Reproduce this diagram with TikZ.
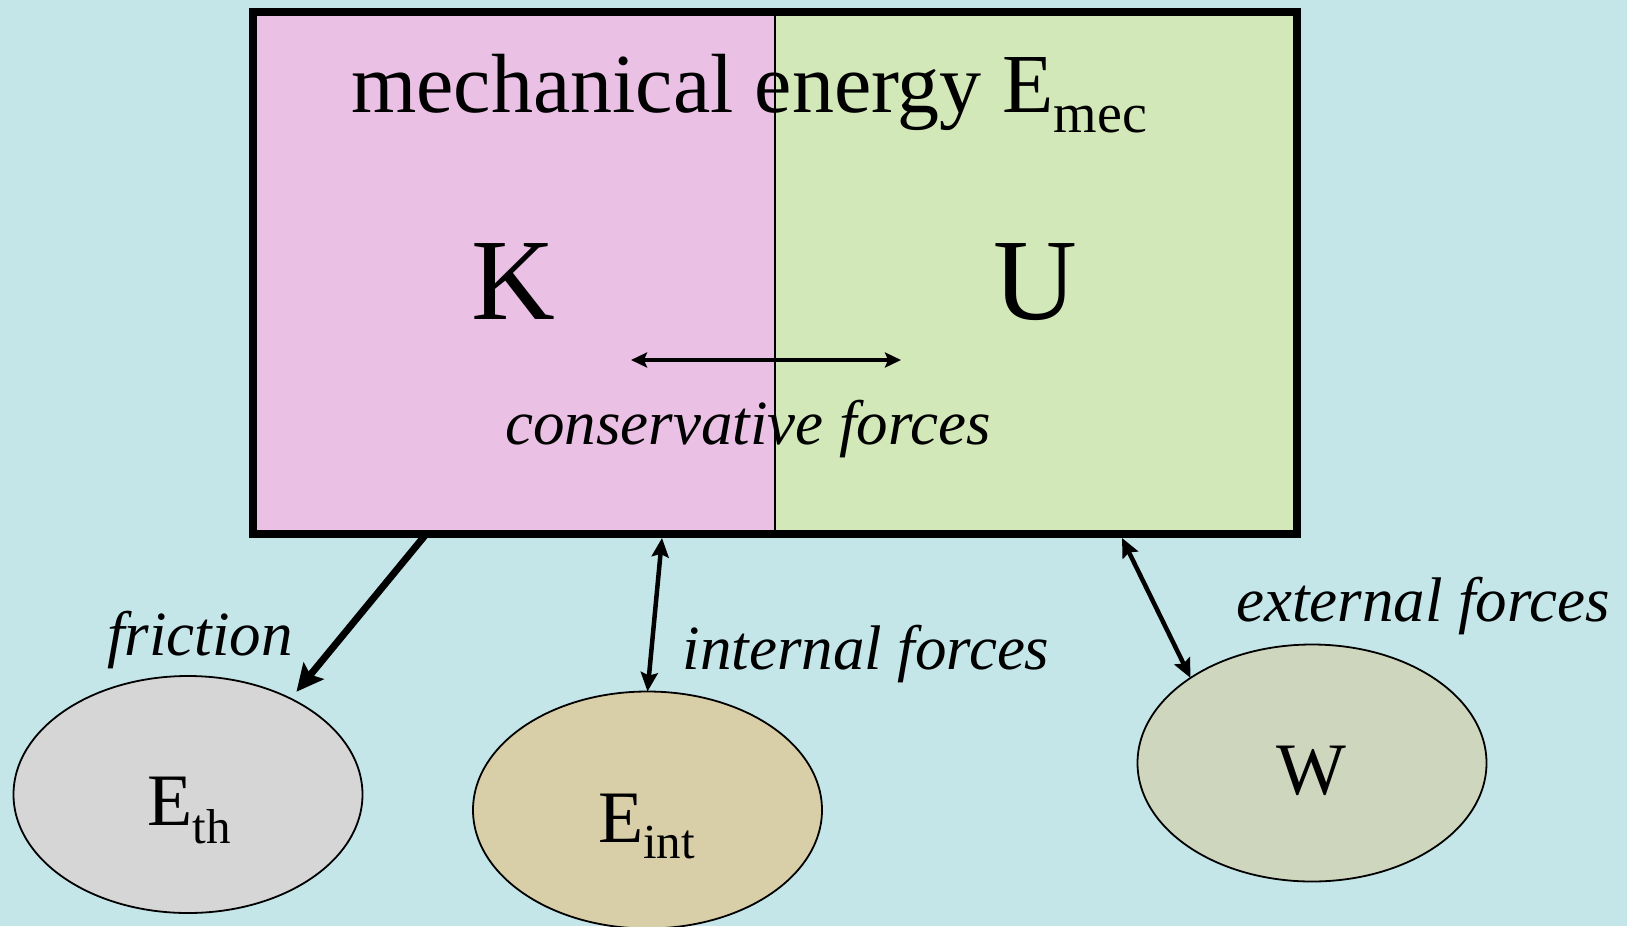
\documentclass[tikz,border=0pt]{standalone}
\usepackage{fontspec}
\setmainfont{Liberation Serif}
\usetikzlibrary{arrows.meta,shapes.geometric}
\definecolor{bgc}{RGB}{196,230,232}
\definecolor{kfill}{RGB}{234,192,228}
\definecolor{ufill}{RGB}{210,232,184}
\definecolor{thfill}{RGB}{214,214,214}
\definecolor{intfill}{RGB}{216,206,168}
\definecolor{wfill}{RGB}{206,214,190}
\newcommand{\fsz}[1]{\fontsize{#1}{#1}\selectfont}
\begin{document}
\begin{tikzpicture}[x=1pt,y=-1pt,
  blob/.style={ellipse, draw=black, line width=1.8pt, minimum width=349pt, minimum height=237pt, inner sep=0pt, outer sep=0pt},
  lbl/.style={inner sep=0pt, anchor=base},
  flabel/.style={inner sep=0pt, anchor=base, font=\fsz{63}\itshape},
  bigarrow/.style={line width=7pt, -{Stealth[length=27pt,width=26pt,inset=5pt]}},
  duoarrow/.style={line width=4.5pt, {Stealth[length=19pt,width=17pt,inset=3pt]}-{Stealth[length=19pt,width=17pt,inset=3pt]}},
  consarrow/.style={line width=3.2pt, {Stealth[length=16pt,width=15pt,inset=3pt]}-{Stealth[length=16pt,width=15pt,inset=3pt]}}
]
\useasboundingbox (0,0) rectangle (1627,926);
\fill[bgc] (0,0) rectangle (1627,926);

% mechanical energy box
\node[minimum width=1044pt, minimum height=522pt, inner sep=0pt, outer sep=0pt] (mec) at (775,273) {};
\fill[kfill] (mec.north west) rectangle (mec.south);
\fill[ufill] (mec.north) rectangle (mec.south east);
\draw[line width=1.3pt] (mec.north) -- (mec.south);
\draw[line width=8.5pt] (mec.north west) rectangle (mec.south east);

\node[inner sep=0pt, anchor=base west] (title) at (351,112) {\fsz{84}mechanical energy E\raisebox{-20pt}{\fsz{56}mec}};
\node[lbl] (K) at (513,319) {\fsz{116}K};
\node[lbl] (U) at (1035,319) {\fsz{116}U};

\coordinate (cl) at (631,360);
\coordinate (cr) at (901,360);
\draw[consarrow] (cl) -- (cr);
\node[flabel] (cons) at (748,444) {conservative forces};

% ellipses
\node[blob, fill=thfill] (Eth) at (188,794.5) {};
\node[blob, fill=intfill] (Eint) at (647.5,810) {};
\node[blob, fill=wfill] (W) at (1312,763) {};

\node[lbl] (Ethl) at (189,825) {\fsz{74}E\raisebox{-18pt}{\fsz{49}th}};
\node[lbl] (Eintl) at (646.5,842) {\fsz{74}E\raisebox{-16pt}{\fsz{49}int}};
\node[lbl] (Wl) at (1311,794) {\fsz{74}W};

% connectors
\coordinate (fs) at (427,533);
\coordinate (is) at (662,538);
\coordinate (es) at (1122,538);
\draw[bigarrow, shorten >=9pt] (fs) -- (Eth.43);
\draw[duoarrow] (is) -- (Eint.north);
\draw[duoarrow] (es) -- (W.145);

\node[flabel] (fric) at (200,655) {friction};
\node[flabel] (intf) at (866,669) {internal forces};
\node[flabel] (extf) at (1423,621) {external forces};
\end{tikzpicture}
\end{document}
